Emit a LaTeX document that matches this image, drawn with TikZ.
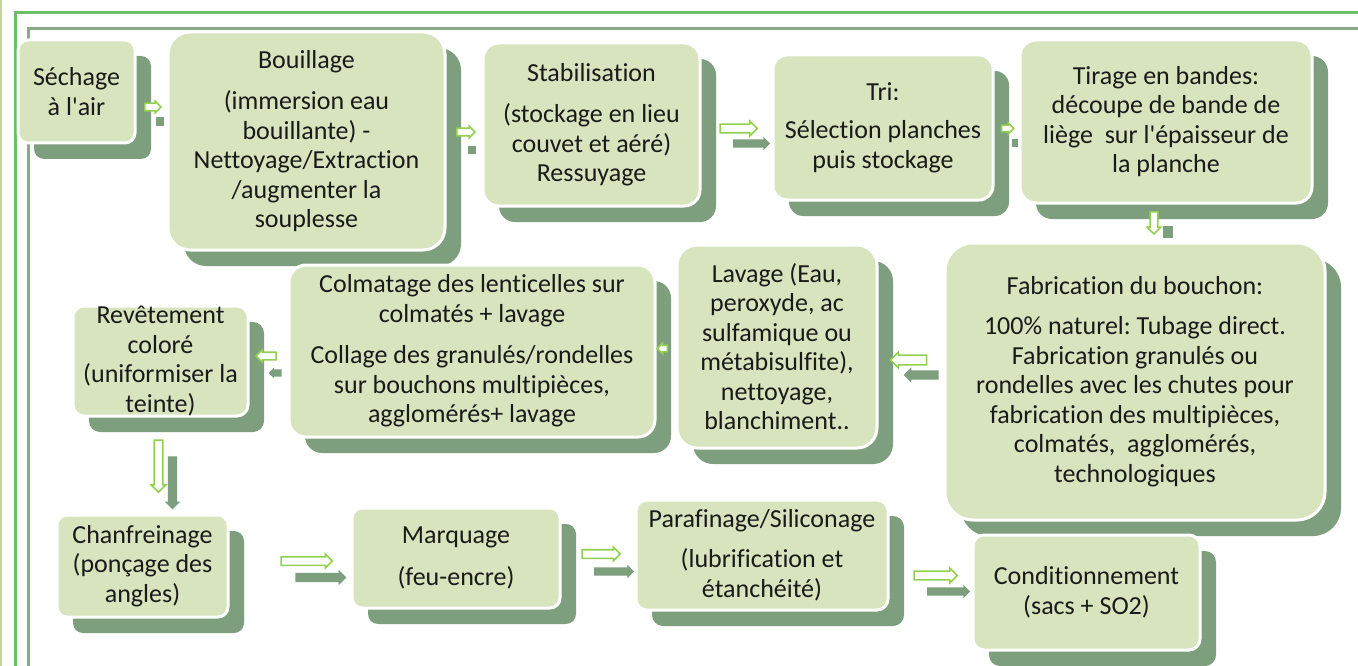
\documentclass[tikz,border=0pt]{standalone}
\usepackage{fontspec}
\setmainfont{Carlito}[Ligatures={TeXOff,CommonOff}]
\usetikzlibrary{shapes.arrows,shadows}
\definecolor{boxg}{HTML}{D7E4BD}
\definecolor{shd}{HTML}{7E9F7E}
\definecolor{arrg}{HTML}{92D050}
\definecolor{lineyg}{HTML}{C3D69B}
\definecolor{lineg}{HTML}{6BBF66}
\definecolor{linegr}{HTML}{8AAA8A}
\definecolor{txt}{HTML}{1A1A1A}
\newcommand{\boxfont}{\fontsize{26}{29.5}\selectfont\frenchspacing}
\newcommand{\nk}{\kern0pt }
\begin{document}
\begin{tikzpicture}[x=1pt,y=-1pt,
  box/.style={draw=white, line width=3pt, fill=boxg, align=center, inner sep=0pt,
    text=txt, font=\boxfont,
    drop shadow={shadow xshift=16pt, shadow yshift=-16pt, fill=shd, opacity=1}},
  oarr/.style n args={3}{single arrow, draw=arrg, fill=white, line width=1.6pt,
    inner sep=0pt, inner ysep=#3, minimum width=0pt, minimum height=#1,
    single arrow head extend=#2},
  darr/.style n args={3}{single arrow, draw=none, fill=shd,
    inner sep=0pt, inner ysep=#3, minimum width=0pt, minimum height=#1,
    single arrow head extend=#2},
  dsq/.style={rectangle, draw=none, fill=shd, inner sep=0pt}
]
\useasboundingbox (0,0) rectangle (1358,666);
\fill[white] (0,0) rectangle (1358,666);
% frame lines
\draw[line width=2pt, lineyg] (1,0) -- (1,666);
\draw[line width=3pt, lineg] (15.5,666) -- (15.5,12.5) -- (1358,12.5);
\draw[line width=3pt, linegr] (28.5,666) -- (28.5,28.5) -- (1358,28.5);

% boxes
\node[box, rounded corners=10pt, minimum width=117pt, minimum height=103pt] (sech) at (76.5,91.5)
  {Séchage\\à l'air};
\node[box, rounded corners=22pt, minimum width=277pt, minimum height=218pt] (bouil) at (306.5,141)
  {Bouillage\\[12pt](immersion eau\\bouillante) -\\Nettoyage/Extract\nk ion\\/augmenter la\\souplesse};
\node[box, rounded corners=16pt, minimum width=217pt, minimum height=163pt] (stab) at (591.5,124.5)
  {Stabilisat\nk ion\\[12pt](stockage en lieu\\couvet et aéré)\\Ressuyage};
\node[box, rounded corners=14pt, minimum width=220pt, minimum height=145pt] (tri) at (883,127.5)
  {Tri:\\[9pt]Sélect\nk ion planches\\puis stockage};
\node[box, rounded corners=16pt, minimum width=292pt, minimum height=163pt] (tir) at (1166,121.5)
  {Tirage en bandes:\\découpe de bande de\\liège\ \ sur l'épaisseur de\\la planche};
\node[box, rounded corners=28pt, minimum width=380pt, minimum height=277pt] (fab) at (1135,381.5)
  {Fabricat\nk ion du bouchon:\\[11pt]100\% naturel: Tubage direct.\\Fabricat\nk ion granulés ou\\rondelles avec les chutes pour\\fabricat\nk ion des multipièces,\\colmatés,\ \ agglomérés,\\technologiques};
\node[box, rounded corners=20pt, minimum width=200pt, minimum height=203pt] (lav) at (777,346.5)
  {Lavage (Eau,\\peroxyde, ac\\sulfamique ou\\métabisulf\nk ite),\\nettoyage,\\blanchiment..};
\node[box, rounded corners=17pt, minimum width=366pt, minimum height=172pt] (colm) at (472,351)
  {Colmatage des lent\nk icelles sur\\colmatés + lavage\\[12pt]Collage des granulés/rondelles\\sur bouchons multipièces,\\agglomérés+ lavage};
\node[box, rounded corners=11pt, minimum width=175pt, minimum height=110pt] (rev) at (160.5,361)
  {Revêtement\\coloré\\(uniformiser la\\teinte)};
\node[box, rounded corners=10pt, minimum width=171pt, minimum height=102pt] (chan) at (142.5,566)
  {Chanfreinage\\(ponçage des\\angles)};
\node[box, rounded corners=10pt, minimum width=208pt, minimum height=100pt] (marq) at (456,558)
  {Marquage\\[12pt](feu-encre)};
\node[box, rounded corners=11pt, minimum width=252pt, minimum height=110pt] (para) at (762,555)
  {Paraf\nk inage/Siliconage\\[11pt](lubrif\nk icat\nk ion et\\étanchéité)};
\node[box, rounded corners=11pt, minimum width=227pt, minimum height=115pt] (cond) at (1086.5,592.5)
  {Condit\nk ionnement\\(sacs + SO2)};

% arrows
\node[oarr={16pt}{2pt}{3pt}] (a1o) at (151,107) {};
\node[dsq, minimum width=8pt, minimum height=9pt] (a1d) at (159.5,121.5) {};
\node[oarr={18pt}{2pt}{3pt}] (a2o) at (464,132) {};
\node[dsq, minimum width=8pt, minimum height=8pt] (a2d) at (471.5,150) {};
\node[oarr={37pt}{3pt}{3.5pt}] (a3o) at (736.5,128.5) {};
\node[darr={37pt}{2.5pt}{4pt}] (a3d) at (749.5,143.5) {};
\node[oarr={12pt}{2pt}{2.5pt}] (a4o) at (1006,128.5) {};
\node[dsq, minimum width=6pt, minimum height=8pt] (a4d) at (1014.5,143) {};
\node[oarr={22pt}{3pt}{3pt}, rotate=-90] (a5o) at (1154,221) {};
\node[dsq, minimum width=10pt, minimum height=12pt] (a5d) at (1168,232) {};
\node[oarr={36pt}{3pt}{4pt}, rotate=180] (a6o) at (911,360) {};
\node[darr={35pt}{3pt}{4.5pt}, rotate=180] (a6d) at (923.5,375) {};
\node[oarr={10pt}{2pt}{2.5pt}, rotate=180] (a7o) at (664,348.5) {};
\node[oarr={20pt}{2.5pt}{3pt}, rotate=180] (a8o) at (268,356) {};
\node[darr={13pt}{1.5pt}{3.5pt}, rotate=180] (a8d) at (277,373) {};
\node[oarr={52pt}{3pt}{3.5pt}, rotate=-90] (a9o) at (158.5,464) {};
\node[darr={53pt}{3pt}{4.5pt}, rotate=-90] (a9d) at (172.5,480.5) {};
\node[oarr={51pt}{2.5pt}{3.5pt}] (a10o) at (304.5,561) {};
\node[darr={51pt}{3pt}{4.5pt}] (a10d) at (318.5,577.5) {};
\node[oarr={38pt}{2.5pt}{3.5pt}] (a11o) at (599,554) {};
\node[darr={40pt}{2.5pt}{4pt}] (a11d) at (612,571.5) {};
\node[oarr={43pt}{3pt}{3.5pt}] (a12o) at (933.5,575.5) {};
\node[darr={43pt}{2.5pt}{4pt}] (a12d) at (946.5,591.5) {};
\end{tikzpicture}
\end{document}
